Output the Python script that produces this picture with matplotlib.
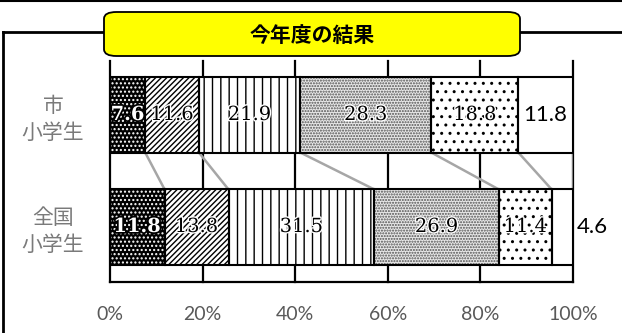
import matplotlib
matplotlib.use("Agg")
import matplotlib.pyplot as plt
import matplotlib.patheffects as pe
from matplotlib.patches import FancyBboxPatch
from matplotlib.lines import Line2D
import numpy as np

plt.rcParams['font.family'] = ['Noto Sans CJK JP', 'DejaVu Sans']

groups = ['市\n小学生', '全国\n小学生']
city   = [7.6, 11.6, 21.9, 28.3, 18.8, 11.8]
nation = [11.8, 13.8, 31.5, 26.9, 11.4, 4.6]
ticks  = [0, 20, 40, 60, 80, 100]
title  = '今年度の結果'

# fill, hatch, hatch colour for each answer category
faces   = ['black', 'white', 'white', '#e8e8e8', 'white', 'white']
hatches = ['....', '//////', '||', '......', '..', None]
hcols   = ['white', 'black', 'black', '#505050', 'black', 'black']

fig = plt.figure(figsize=(6.22, 3.33), dpi=100)
ax = fig.add_axes([110/622, 1-282/333, 463/622, 221/333])

data = [city, nation]
bh = 0.67
for row, vals in enumerate(data):
    left = 0
    for k, v in enumerate(vals):
        ax.barh(row, v, left=left, height=bh, color=faces[k], edgecolor=hcols[k],
                hatch=hatches[k], linewidth=0, zorder=2)
        ax.barh(row, v, left=left, height=bh, fill=False, edgecolor='black',
                linewidth=1.5, zorder=3)
        cx = left + v/2
        if k == 0:
            ax.text(cx, row, f'{v}', ha='center', va='center', color='white',
                    fontsize=14, family='DejaVu Serif', fontweight='bold', zorder=5,
                    path_effects=[pe.withStroke(linewidth=2.5, foreground='black')])
        elif k == len(vals)-1:
            if v < 8:
                ax.text(100 + 0.9, row, f'{v}', ha='left', va='center',
                        fontsize=16, family='Lato', zorder=5)
            else:
                ax.text(cx, row, f'{v}', ha='center', va='center',
                        fontsize=16, family='Lato', zorder=5)
        else:
            ax.text(cx, row, f'{v}', ha='center', va='center', color='black',
                    fontsize=14, family='DejaVu Serif', zorder=5,
                    path_effects=[pe.withStroke(linewidth=2, foreground='white')])
        left += v

# series lines between the two bars
c1 = np.cumsum(city)
c2 = np.cumsum(nation)
for a, b in zip(c1, c2):
    ax.plot([a, b], [0 + bh/2, 1 - bh/2], color='#a6a6a6', lw=1.8, zorder=1)

ax.set_xlim(0, 100)
ax.set_ylim(1 + 55/112, -54/112)
ax.set_xticks(ticks)
ax.set_xticklabels([f'{t}%' for t in ticks], fontsize=14, family='Lato', color='#595959')
ax.tick_params(axis='x', length=0, pad=17)
ax.set_yticks([])
for x in ticks:
    ax.axvline(x, color='black', lw=1.6, zorder=0, clip_on=False)
for s in ['top', 'right', 'left']:
    ax.spines[s].set_visible(False)
ax.spines['bottom'].set_linewidth(1.6)

for row, g in enumerate(groups):
    ax.text(-0.123, row + 0.04, g, transform=ax.get_yaxis_transform(), ha='center',
            va='center', fontsize=15, color='#7a7a7a', linespacing=1.25)

# outer frame
fig.add_artist(Line2D([0, 1], [1 - 0.6/333, 1 - 0.6/333], color='black', lw=1.5, zorder=1))
fig.add_artist(Line2D([3/622, 1], [1 - 32/333, 1 - 32/333], color='black', lw=2, zorder=1))
fig.add_artist(Line2D([3/622, 3/622], [1 - 32/333, 0], color='black', lw=2, zorder=1))

box = FancyBboxPatch((104/622, 1 - 56/333), 416/622, 44/333,
                     boxstyle='round,pad=0,rounding_size=0.02', transform=fig.transFigure,
                     facecolor='#ffff00', edgecolor='black', lw=1.3, zorder=5)
fig.add_artist(box)
fig.text(312/622, 1 - 35/333, title, ha='center', va='center', fontsize=15,
         fontweight='bold', color='black', zorder=6)

fig.savefig('out.png', dpi=100)
